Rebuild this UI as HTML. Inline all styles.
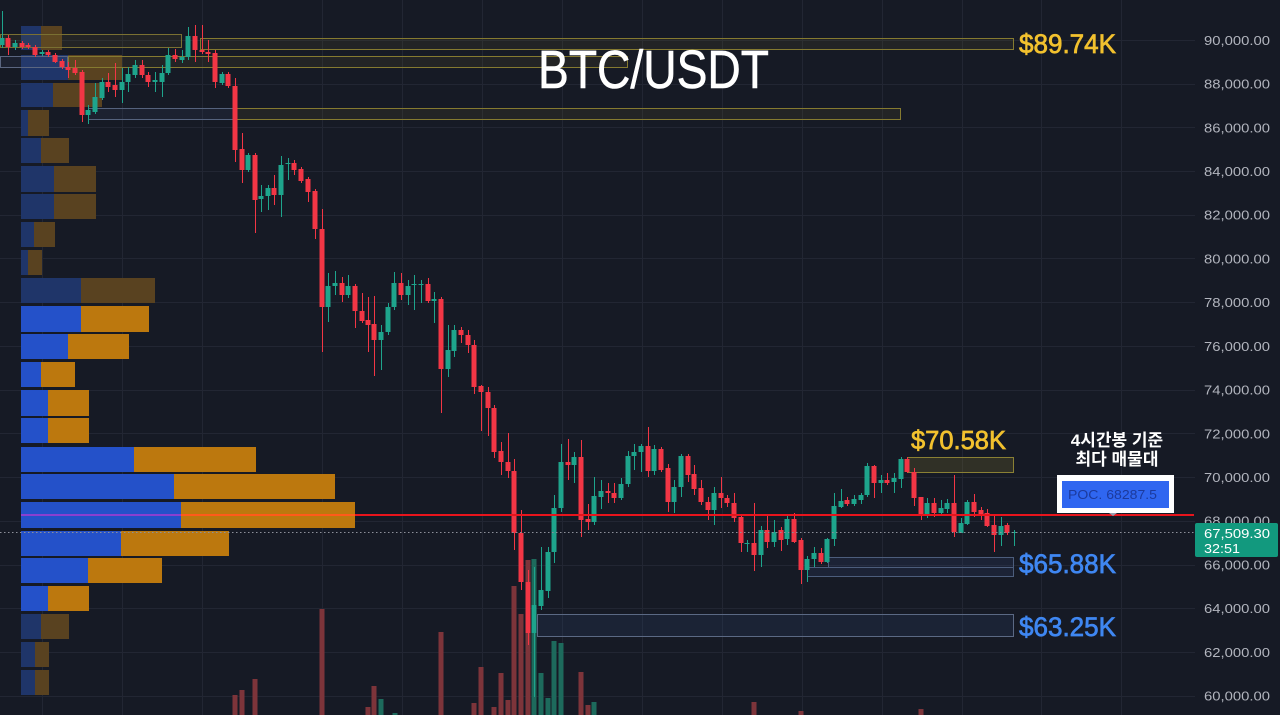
<!DOCTYPE html>
<html>
<head>
<meta charset="utf-8">
<style>
html,body{margin:0;padding:0;background:#161a25;width:1280px;height:715px;overflow:hidden;}
svg{display:block;}
</style>
</head>
<body>
<svg width="1280" height="715" viewBox="0 0 1280 715" xmlns="http://www.w3.org/2000/svg">
<rect x="0" y="0" width="1280" height="715" fill="#161a25"/>

<!-- grid -->
<g stroke="#222633" stroke-width="1" shape-rendering="crispEdges">
<path d="M42.5 0V715M122.5 0V715M202.5 0V715M322.5 0V715M402.5 0V715M482.5 0V715M562.5 0V715M642.5 0V715M722.5 0V715M802.5 0V715M882.5 0V715M962.5 0V715M1041.5 0V715M1121.5 0V715"/>
<path d="M0 40.5H1195M0 84.5H1195M0 127.5H1195M0 171.5H1195M0 215.5H1195M0 258.5H1195M0 302.5H1195M0 346.5H1195M0 390.5H1195M0 433.5H1195M0 477.5H1195M0 521.5H1195M0 565.5H1195M0 608.5H1195M0 652.5H1195M0 696.5H1195"/>
</g>

<!-- volume bars -->
<path fill="#7d343a" d="M232.5 695h5V715h-5zM239.5 690h5V715h-5zM252.5 679h5V715h-5zM319.5 609h5V715h-5zM365.5 707h5V715h-5zM371.5 686h5V715h-5zM438.5 632h5V715h-5zM471.5 703h5V715h-5zM478.5 667h5V715h-5zM491.5 707h5V715h-5zM498.5 673h5V715h-5zM505.5 700h5V715h-5zM511.5 586h5V715h-5zM518.5 614h5V715h-5zM525.5 560h5V715h-5zM578.5 672h5V715h-5zM585.5 705h5V715h-5zM751.5 702h5V715h-5zM798.5 711h5V715h-5zM918.5 709h5V715h-5z"/>
<path fill="#1d6a5c" d="M378.5 699h5V715h-5zM392.5 713h5V715h-5zM531.5 559h5V715h-5zM538.5 673h5V715h-5zM545.5 698h5V715h-5zM551.5 641h5V715h-5zM558.5 643h5V715h-5zM591.5 702h5V715h-5z"/>

<!-- volume profile -->
<g shape-rendering="crispEdges">
<g fill="#1f3569">
<rect x="21" y="26" width="20" height="24"/>
<rect x="21" y="55" width="47" height="25"/>
<rect x="21" y="83" width="32" height="24"/>
<rect x="21" y="110" width="7" height="26"/>
<rect x="21" y="138" width="20" height="25"/>
<rect x="21" y="166" width="33" height="26"/>
<rect x="21" y="194" width="33" height="25"/>
<rect x="21" y="222" width="13" height="25"/>
<rect x="21" y="250" width="7" height="25"/>
<rect x="21" y="278" width="60" height="25"/>
<rect x="21" y="614" width="20" height="25"/>
<rect x="21" y="642" width="14" height="25"/>
<rect x="21" y="670" width="14" height="25"/>
</g>
<g fill="#594220">
<rect x="41" y="26" width="21" height="24"/>
<rect x="68" y="55" width="54" height="25"/>
<rect x="53" y="83" width="49" height="24"/>
<rect x="28" y="110" width="21" height="26"/>
<rect x="41" y="138" width="28" height="25"/>
<rect x="54" y="166" width="42" height="26"/>
<rect x="54" y="194" width="42" height="25"/>
<rect x="34" y="222" width="21" height="25"/>
<rect x="28" y="250" width="14" height="25"/>
<rect x="81" y="278" width="74" height="25"/>
<rect x="41" y="614" width="28" height="25"/>
<rect x="35" y="642" width="14" height="25"/>
<rect x="35" y="670" width="14" height="25"/>
</g>
<g fill="#2451c9">
<rect x="21" y="306" width="60" height="26"/>
<rect x="21" y="334" width="47" height="25"/>
<rect x="21" y="362" width="20" height="25"/>
<rect x="21" y="390" width="27" height="26"/>
<rect x="21" y="418" width="27" height="25"/>
<rect x="21" y="447" width="113" height="25"/>
<rect x="21" y="474" width="153" height="25"/>
<rect x="21" y="502" width="160" height="26"/>
<rect x="21" y="531" width="100" height="25"/>
<rect x="21" y="558" width="67" height="25"/>
<rect x="21" y="586" width="27" height="25"/>
</g>
<g fill="#bc780e">
<rect x="81" y="306" width="68" height="26"/>
<rect x="68" y="334" width="61" height="25"/>
<rect x="41" y="362" width="34" height="25"/>
<rect x="48" y="390" width="41" height="26"/>
<rect x="48" y="418" width="41" height="25"/>
<rect x="134" y="447" width="122" height="25"/>
<rect x="174" y="474" width="161" height="25"/>
<rect x="181" y="502" width="174" height="26"/>
<rect x="121" y="531" width="108" height="25"/>
<rect x="88" y="558" width="74" height="25"/>
<rect x="48" y="586" width="41" height="25"/>
</g>
</g>

<!-- zone boxes -->
<g stroke-width="1" shape-rendering="crispEdges">
<rect x="0.5" y="34.5" width="181" height="13" fill="rgba(130,118,40,0.12)" stroke="#7a7032"/>
<rect x="200.5" y="38.5" width="813" height="11" fill="rgba(130,118,40,0.12)" stroke="#857a30"/>
<rect x="0.5" y="56.5" width="67" height="11" fill="rgba(70,90,130,0.12)" stroke="#5b6680"/>
<rect x="68.5" y="56.5" width="559" height="11" fill="rgba(130,118,40,0.12)" stroke="#857a30"/>
<rect x="88.5" y="108.5" width="148" height="11" fill="rgba(70,90,130,0.12)" stroke="#55627d"/>
<rect x="236.5" y="108.5" width="664" height="11" fill="rgba(130,118,40,0.12)" stroke="#857a30"/>
<rect x="907.5" y="457.5" width="106" height="15" fill="rgba(140,128,45,0.22)" stroke="#8a8034"/>
<rect x="828.5" y="557.5" width="185" height="10" fill="rgba(60,90,140,0.16)" stroke="#4c5d7c"/>
<rect x="807.5" y="567.5" width="206" height="9" fill="rgba(60,90,140,0.16)" stroke="#4c5d7c"/>
<rect x="537.5" y="614.5" width="476" height="22" fill="rgba(50,80,130,0.18)" stroke="#5b6984"/>
</g>

<!-- candles red -->
<g>
<path stroke="#f23645" stroke-width="1" fill="none" d="M8.5 35V55M22.5 41V49M28.5 43V49M35.5 45V57M48.5 50V57M55.5 53V63M62.5 59V69M68.5 62V78M75.5 60V75M82.5 70V122M108.5 73V92M115.5 63V97M142.5 60V78M148.5 72V87M175.5 49V62M195.5 25V62M202.5 25V54M208.5 40V62M215.5 50V88M228.5 72V88M235.5 78V162M242.5 133V183M255.5 153V233M274.5 175V205M294.5 160V175M301.5 167V183M308.5 177V202M315.5 189V239M322.5 209V352M342.5 277V302M355.5 284V328M362.5 293V323M368.5 297V352M374.5 296V376M401.5 273V300M428.5 278V303M441.5 297V413M461.5 327V343M468.5 330V353M474.5 340V394M481.5 385V431M488.5 387V436M494.5 405V458M501.5 442V475M508.5 433V478M514.5 459V550M521.5 510V590M528.5 570V645M568.5 439V480M581.5 440V537M588.5 504V530M608.5 483V503M614.5 483V503M648.5 427V477M661.5 447V472M668.5 464V512M688.5 454V482M694.5 465V495M701.5 480V505M708.5 497V520M721.5 477V508M727.5 495V507M734.5 493V522M741.5 515V552M754.5 503V571M767.5 515V548M781.5 527V551M794.5 513V543M801.5 538V584M821.5 548V564M847.5 497V506M874.5 465V498M887.5 473V485M907.5 457V473M914.5 468V506M921.5 497V520M934.5 498V517M954.5 475V537M974.5 494V517M981.5 507V520M987.5 509V527M994.5 515V552M1007.5 523V535"/>
<path fill="#f23645" d="M5.5 38h5v9h-5zM19.5 43h5v4h-5zM25.5 45h5v2h-5zM32.5 47h5v8h-5zM45.5 52h5v3h-5zM52.5 55h5v7h-5zM59.5 61h5v6h-5zM65.5 67h5v3h-5zM72.5 68h5v5h-5zM79.5 72h5v43h-5zM105.5 82h5v5h-5zM112.5 85h5v5h-5zM139.5 65h5v10h-5zM145.5 75h5v7h-5zM172.5 55h5v4h-5zM192.5 36h5v14h-5zM199.5 50h5v2h-5zM205.5 52h5v2h-5zM212.5 53h5v29h-5zM225.5 74h5v12h-5zM232.5 86h5v64h-5zM239.5 149h5v21h-5zM252.5 155h5v45h-5zM271.5 188h5v7h-5zM291.5 163h5v7h-5zM298.5 169h5v12h-5zM305.5 179h5v13h-5zM312.5 191h5v38h-5zM319.5 229h5v78h-5zM339.5 283h5v12h-5zM352.5 286h5v25h-5zM359.5 311h5v10h-5zM365.5 320h5v5h-5zM371.5 324h5v16h-5zM398.5 283h5v12h-5zM425.5 284h5v17h-5zM438.5 299h5v70h-5zM458.5 330h5v5h-5zM465.5 335h5v10h-5zM471.5 345h5v42h-5zM478.5 386h5v6h-5zM485.5 392h5v16h-5zM491.5 408h5v44h-5zM498.5 451h5v11h-5zM505.5 462h5v9h-5zM511.5 471h5v62h-5zM518.5 533h5v49h-5zM525.5 582h5v51h-5zM565.5 462h5v3h-5zM578.5 457h5v63h-5zM585.5 519h5v3h-5zM605.5 491h5v2h-5zM611.5 493h5v5h-5zM645.5 446h5v25h-5zM658.5 449h5v21h-5zM665.5 468h5v34h-5zM685.5 456h5v19h-5zM691.5 474h5v15h-5zM698.5 488h5v14h-5zM705.5 502h5v8h-5zM718.5 493h5v5h-5zM724.5 498h5v5h-5zM731.5 503h5v15h-5zM738.5 517h5v26h-5zM751.5 543h5v12h-5zM764.5 530h5v12h-5zM778.5 530h5v10h-5zM791.5 519h5v23h-5zM798.5 540h5v30h-5zM818.5 553h5v9h-5zM844.5 500h5v4h-5zM871.5 466h5v17h-5zM884.5 480h5v3h-5zM904.5 459h5v13h-5zM911.5 472h5v26h-5zM918.5 497h5v19h-5zM931.5 503h5v10h-5zM951.5 503h5v29h-5zM971.5 502h5v10h-5zM978.5 510h5v5h-5zM984.5 513h5v13h-5zM991.5 525h5v10h-5zM1004.5 525h5v8h-5z"/>
</g>

<!-- candles green -->
<g>
<path stroke="#1ea48c" stroke-width="1" fill="none" d="M2.5 11V48M15.5 40V50M42.5 50V56M88.5 105V124M95.5 83V114M102.5 78V100M122.5 68V103M128.5 67V92M135.5 60V78M155.5 72V92M162.5 65V97M168.5 48V75M182.5 50V63M188.5 27V60M222.5 72V85M248.5 153V172M261.5 185V212M268.5 185V210M281.5 156V217M288.5 158V180M328.5 273V322M335.5 271V295M348.5 275V298M381.5 325V370M388.5 303V335M394.5 272V310M408.5 280V305M414.5 275V310M421.5 280V303M434.5 292V323M448.5 325V377M454.5 325V357M534.5 567V697M541.5 547V610M548.5 547V598M554.5 495V563M561.5 444V512M574.5 452V483M594.5 477V525M601.5 480V509M621.5 478V500M628.5 451V487M634.5 444V470M641.5 444V472M654.5 445V475M674.5 480V513M681.5 454V497M714.5 487V525M747.5 540V552M761.5 526V567M774.5 520V547M787.5 515V545M807.5 556V582M814.5 547V567M827.5 538V563M834.5 493V546M841.5 489V508M854.5 495V506M861.5 493V504M867.5 463V497M881.5 475V493M894.5 473V493M901.5 457V488M927.5 498V518M941.5 500V515M947.5 499V513M961.5 518V533M967.5 500V525M1001.5 517V546M1014.5 530V546"/>
<path fill="#1ea48c" d="M-0.5 38h5v7h-5zM12.5 43h5v4h-5zM39.5 52h5v2h-5zM85.5 110h5v5h-5zM92.5 97h5v15h-5zM99.5 82h5v16h-5zM119.5 82h5v8h-5zM125.5 74h5v8h-5zM132.5 65h5v10h-5zM152.5 80h5v2h-5zM159.5 73h5v9h-5zM165.5 55h5v18h-5zM179.5 57h5v3h-5zM185.5 36h5v21h-5zM219.5 74h5v9h-5zM245.5 155h5v15h-5zM258.5 196h5v3h-5zM265.5 188h5v8h-5zM278.5 165h5v30h-5zM285.5 163h5v1h-5zM325.5 286h5v21h-5zM332.5 283h5v3h-5zM345.5 286h5v9h-5zM378.5 332h5v8h-5zM385.5 307h5v25h-5zM391.5 283h5v24h-5zM405.5 286h5v9h-5zM411.5 284h5v1h-5zM418.5 284h5v1h-5zM431.5 299h5v2h-5zM445.5 350h5v19h-5zM451.5 330h5v21h-5zM531.5 605h5v28h-5zM538.5 590h5v16h-5zM545.5 552h5v39h-5zM551.5 508h5v44h-5zM558.5 462h5v46h-5zM571.5 457h5v8h-5zM591.5 496h5v26h-5zM598.5 491h5v6h-5zM618.5 484h5v14h-5zM625.5 456h5v28h-5zM631.5 452h5v4h-5zM638.5 446h5v6h-5zM651.5 449h5v22h-5zM671.5 487h5v15h-5zM678.5 456h5v31h-5zM711.5 493h5v17h-5zM744.5 543h5v1h-5zM758.5 530h5v25h-5zM771.5 532h5v10h-5zM784.5 519h5v20h-5zM804.5 559h5v11h-5zM811.5 553h5v6h-5zM824.5 539h5v23h-5zM831.5 506h5v33h-5zM838.5 501h5v6h-5zM851.5 499h5v5h-5zM858.5 495h5v5h-5zM864.5 466h5v29h-5zM878.5 480h5v3h-5zM891.5 478h5v4h-5zM898.5 459h5v20h-5zM924.5 503h5v12h-5zM938.5 508h5v5h-5zM944.5 503h5v6h-5zM958.5 523h5v10h-5zM964.5 502h5v22h-5zM998.5 526h5v9h-5zM1011.5 532h5v1h-5z"/>
</g>

<!-- current price dotted line -->
<line x1="0" y1="532.5" x2="1195" y2="532.5" stroke="#8d909a" stroke-width="1" stroke-dasharray="1.5 2.5"/>

<!-- POC line -->
<line x1="21" y1="515" x2="181" y2="515" stroke="#8a3fd0" stroke-width="2"/>
<line x1="181" y1="515" x2="355" y2="515" stroke="#ff5a1a" stroke-width="2"/>
<line x1="355" y1="515" x2="1194" y2="515" stroke="#e8141c" stroke-width="2"/>

<!-- title -->
<text x="538" y="88" font-family="'Liberation Sans', sans-serif" font-size="54" fill="#ffffff" stroke="#ffffff" stroke-width="0.6" textLength="231" lengthAdjust="spacingAndGlyphs">BTC/USDT</text>

<!-- price labels -->
<g font-family="'Liberation Sans', sans-serif" font-size="27" stroke-width="0.7">
<text x="1019" y="53" fill="#f2c12e" stroke="#f2c12e" textLength="97" lengthAdjust="spacingAndGlyphs">$89.74K</text>
<text x="911" y="449" fill="#f2c12e" stroke="#f2c12e" font-size="26" textLength="95" lengthAdjust="spacingAndGlyphs">$70.58K</text>
<text x="1019" y="573" fill="#3f87f2" stroke="#3f87f2" textLength="97" lengthAdjust="spacingAndGlyphs">$65.88K</text>
<text x="1019" y="636" fill="#3f87f2" stroke="#3f87f2" textLength="97" lengthAdjust="spacingAndGlyphs">$63.25K</text>
</g>

<!-- Korean annotation -->
<g font-family="'Liberation Sans', 'Noto Sans CJK KR', sans-serif" font-size="17" font-weight="bold" fill="#ffffff" text-anchor="middle">
<text x="1117" y="446">4시간봉 기준</text>
<text x="1117" y="465">최다 매물대</text>
</g>

<!-- POC box -->
<rect x="1057" y="475" width="117" height="38" fill="#ffffff"/>
<rect x="1062" y="481" width="107" height="27" fill="#2f66f0"/>
<text x="1068" y="499" font-family="'Liberation Sans', sans-serif" font-size="13" fill="#1c3a9c" textLength="89" lengthAdjust="spacingAndGlyphs">POC. 68287.5</text>
<path d="M1109 513h8l-4 3z" fill="#9aa0b0"/>

<!-- right axis labels -->
<g font-family="'Liberation Sans', sans-serif" font-size="13" fill="#b2b5be">
<text x="1204" y="45" textLength="66" lengthAdjust="spacingAndGlyphs">90,000.00</text>
<text x="1204" y="88.5" textLength="66" lengthAdjust="spacingAndGlyphs">88,000.00</text>
<text x="1204" y="132.5" textLength="66" lengthAdjust="spacingAndGlyphs">86,000.00</text>
<text x="1204" y="176" textLength="66" lengthAdjust="spacingAndGlyphs">84,000.00</text>
<text x="1204" y="219.5" textLength="66" lengthAdjust="spacingAndGlyphs">82,000.00</text>
<text x="1204" y="263.5" textLength="66" lengthAdjust="spacingAndGlyphs">80,000.00</text>
<text x="1204" y="307" textLength="66" lengthAdjust="spacingAndGlyphs">78,000.00</text>
<text x="1204" y="351" textLength="66" lengthAdjust="spacingAndGlyphs">76,000.00</text>
<text x="1204" y="394.5" textLength="66" lengthAdjust="spacingAndGlyphs">74,000.00</text>
<text x="1204" y="438.5" textLength="66" lengthAdjust="spacingAndGlyphs">72,000.00</text>
<text x="1204" y="482" textLength="66" lengthAdjust="spacingAndGlyphs">70,000.00</text>
<text x="1204" y="525.5" textLength="66" lengthAdjust="spacingAndGlyphs">68,000.00</text>
<text x="1204" y="569.5" textLength="66" lengthAdjust="spacingAndGlyphs">66,000.00</text>
<text x="1204" y="613" textLength="66" lengthAdjust="spacingAndGlyphs">64,000.00</text>
<text x="1204" y="657" textLength="66" lengthAdjust="spacingAndGlyphs">62,000.00</text>
<text x="1204" y="700.5" textLength="66" lengthAdjust="spacingAndGlyphs">60,000.00</text>
</g>

<!-- current price label -->
<rect x="1195" y="523" width="83" height="34" rx="2" fill="#12997e"/>
<g font-family="'Liberation Sans', sans-serif" font-size="13" fill="#ffffff">
<text x="1204" y="538" textLength="66" lengthAdjust="spacingAndGlyphs">67,509.30</text>
<text x="1204" y="553" textLength="36" lengthAdjust="spacingAndGlyphs">32:51</text>
</g>
</svg>
</body>
</html>
